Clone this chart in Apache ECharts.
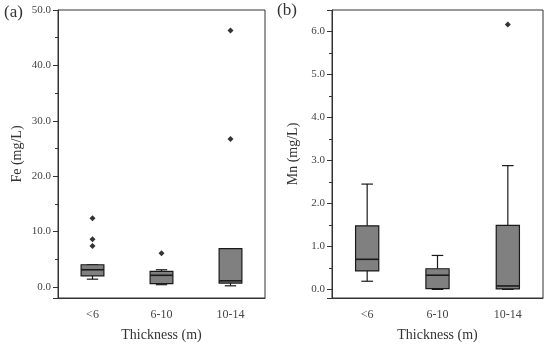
<!DOCTYPE html>
<html><head><meta charset="utf-8">
<script src="https://cdn.jsdelivr.net/npm/echarts@6/dist/echarts.min.js"></script>
<style>html,body{margin:0;padding:0;background:#fff}#c{width:550px;height:350px}</style>
</head><body><div id="c"></div>
<script>
var categories = ['<6', '6-10', '10-14'];
// [min, Q1, median, Q3, max]
var feBoxes = [[1.4, 2.0, 3.1, 4.0, 4.0], [0.4, 0.6, 2.1, 2.8, 3.1], [0.2, 0.7, 1.1, 6.9, 6.9]];
var feOutliers = [[0, 12.4], [0, 8.6], [0, 7.4], [1, 6.1], [2, 46.3], [2, 26.7]];
var mnBoxes = [[0.19, 0.43, 0.70, 1.48, 2.45], [0.0, 0.02, 0.33, 0.48, 0.79], [0.0, 0.01, 0.08, 1.49, 2.88]];
var mnOutliers = [[2, 6.16]];

var FONT = 'Liberation Serif';
var chart = echarts.init(document.getElementById('c'));

function boxData(arr) { return arr.map(function (b, i) { return [i].concat(b); }); }

function renderBox(params, api) {
  var x = api.value(0);
  var pLow = api.coord([x, api.value(1)]);
  var pQ1 = api.coord([x, api.value(2)]);
  var pMed = api.coord([x, api.value(3)]);
  var pQ3 = api.coord([x, api.value(4)]);
  var pHigh = api.coord([x, api.value(5)]);
  var band = api.size([1, 0])[0];
  var hw = band * 0.165;
  var cw = hw * 0.5;
  var cx = pMed[0];
  var ls = { stroke: '#1a1a1a', lineWidth: 1.2 };
  return {
    type: 'group',
    children: [
      { type: 'line', shape: { x1: cx, y1: pQ3[1], x2: cx, y2: pHigh[1] }, style: ls },
      { type: 'line', shape: { x1: cx, y1: pQ1[1], x2: cx, y2: pLow[1] }, style: ls },
      { type: 'line', shape: { x1: cx - cw, y1: pHigh[1], x2: cx + cw, y2: pHigh[1] }, style: ls },
      { type: 'line', shape: { x1: cx - cw, y1: pLow[1], x2: cx + cw, y2: pLow[1] }, style: ls },
      { type: 'rect', shape: { x: cx - hw, y: pQ3[1], width: hw * 2, height: pQ1[1] - pQ3[1] },
        style: { fill: '#808080', stroke: '#1a1a1a', lineWidth: 1.2 } },
      { type: 'line', shape: { x1: cx - hw, y1: pMed[1], x2: cx + hw, y2: pMed[1] }, style: { stroke: '#1a1a1a', lineWidth: 1.6 } }
    ]
  };
}

function xAxis(idx) {
  return {
    type: 'category', gridIndex: idx, data: categories,
    boundaryGap: true,
    name: 'Thickness (m)', nameLocation: 'middle', nameGap: 30,
    nameTextStyle: { fontFamily: FONT, fontSize: 14, color: '#333' },
    axisLine: { onZero: false, lineStyle: { color: '#333', width: 1 } },
    axisTick: { alignWithLabel: true, length: 5, lineStyle: { color: '#333' } },
    axisLabel: { fontFamily: FONT, fontSize: 12, color: '#444', margin: 11 },
    splitLine: { show: false }
  };
}
function yAxis(idx, name, min, max, gap) {
  return {
    type: 'value', gridIndex: idx, min: min, max: max, splitNumber: 5,
    name: name, nameLocation: 'middle', nameGap: gap, nameRotate: 90,
    nameTextStyle: { fontFamily: FONT, fontSize: 14, color: '#333' },
    axisLine: { show: true, lineStyle: { color: '#333', width: 1 } },
    axisTick: { show: true, length: 5, lineStyle: { color: '#333' } },
    minorTick: { show: true, splitNumber: 2, length: 3, lineStyle: { color: '#333' } },
    axisLabel: { fontFamily: FONT, fontSize: 11, color: '#444', margin: 7, showMinLabel: false, showMaxLabel: idx === 0,
      formatter: function (v) { return v.toFixed(1); } },
    splitLine: { show: false }
  };
}

chart.setOption({
  animation: false,
  backgroundColor: '#fff',
  graphic: [
    { type: 'text', left: 4, top: 4, style: { text: '(a)', font: '17px "Liberation Serif"', fill: '#333' } },
    { type: 'text', left: 277, top: 2, style: { text: '(b)', font: '17px "Liberation Serif"', fill: '#333' } }
  ],
  grid: [
    { left: 58, right: 285, top: 10, bottom: 52, show: true, borderColor: '#333', borderWidth: 1 },
    { left: 332, right: 7, top: 10, bottom: 52, show: true, borderColor: '#333', borderWidth: 1 }
  ],
  xAxis: [xAxis(0), xAxis(1)],
  yAxis: [yAxis(0, 'Fe (mg/L)', -2, 50, 34), yAxis(1, 'Mn (mg/L)', -0.2, 6.5, 32)],
  series: [
    { type: 'custom', xAxisIndex: 0, yAxisIndex: 0, renderItem: renderBox, data: boxData(feBoxes), encode: { x: 0, y: [1, 2, 3, 4, 5] } },
    { type: 'scatter', xAxisIndex: 0, yAxisIndex: 0, data: feOutliers, symbol: 'diamond', symbolSize: 6, itemStyle: { color: '#000' } },
    { type: 'custom', xAxisIndex: 1, yAxisIndex: 1, renderItem: renderBox, data: boxData(mnBoxes), encode: { x: 0, y: [1, 2, 3, 4, 5] } },
    { type: 'scatter', xAxisIndex: 1, yAxisIndex: 1, data: mnOutliers, symbol: 'diamond', symbolSize: 6, itemStyle: { color: '#000' } }
  ]
});
</script></body></html>
